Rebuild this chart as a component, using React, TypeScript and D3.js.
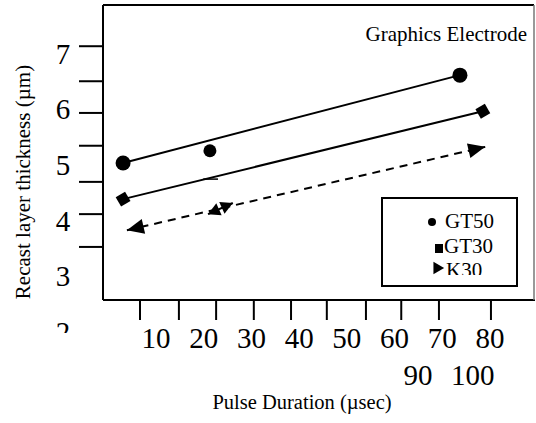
import * as d3 from 'd3';

// values
const xLabels = [10, 20, 30, 40, 50, 60, 70, 80];
const xLabelsRow2 = ['90', '100'];
const xLabelsRow2At = [64.9, 76.4];
const xTickMarks = [6.65, 14.8, 22.6, 30.5, 38.3, 45.8, 54.0, 61.4, 69.3, 80.2];
const yLabels = [7, 6, 5, 4, 3, 2];
const yTickMarks = [7.14, 6.51, 5.94, 5.35, 4.7, 4.12, 3.53];

const gt50X = [3.1, 21.3, 73.7];
const gt50Y = [5.04, 5.26, 6.62];
const gt50LineX = [3.1, 73.7];
const gt50LineY = [5.04, 6.62];
const gt30X = [3.1, 78.5];
const gt30Y = [4.39, 5.97];
const k30X = [3.9, 79];
const k30Y = [3.83, 5.33];
const k30MidX = [20.9, 26.1];
const k30MidY = [4.12, 4.32];
const strayX = [19.9, 23.0];
const strayY = [4.75, 4.75];

const legendNames = ['GT50', 'GT30', 'K30'];

const font = '"Liberation Serif", "Times New Roman", serif';

function App() {
    const width = 536;
    const height = 423;
    const box = { left: 103, top: 5, right: 534, bottom: 300 };

    const x = d3.scaleLinear().domain([10, 80]).range([156, 490]);
    const y = d3.scaleLinear().domain([2, 7]).range([332, 54]);

    const line = d3.line<[number, number]>().x(d => x(d[0])).y(d => y(d[1]));
    const pts = (xs: number[], ys: number[]) => xs.map((v, i) => [v, ys[i]] as [number, number]);

    // arrowhead pointing from (x0,y0) to tip (x1,y1)
    const arrowHead = (x0: number, y0: number, x1: number, y1: number, len: number, half: number) => {
        const ax = x(x0), ay = y(y0), bx = x(x1), by = y(y1);
        const dx = bx - ax, dy = by - ay;
        const l = Math.sqrt(dx * dx + dy * dy);
        const ux = dx / l, uy = dy / l;
        const baseX = bx - ux * len, baseY = by - uy * len;
        return `M${bx},${by}L${baseX - uy * half},${baseY + ux * half}L${baseX + uy * half},${baseY - ux * half}Z`;
    };

    const diamond = d3.symbol().type(d3.symbolDiamond2).size(150)();
    const tri = d3.symbol().type(d3.symbolTriangle2).size(110)();

    return (
        <svg width={width} height={height} style={{ position: 'absolute', left: 0, top: 0, background: '#fff' }} fontFamily={font}>
            <defs>
                <clipPath id="ylab"><rect x={0} y={0} width={100} height={333} /></clipPath>
                <clipPath id="leg"><rect x={380} y={195} width={140} height={80} /></clipPath>
            </defs>

            {/* frame */}
            <line x1={box.left} x2={box.right} y1={box.top} y2={box.top} stroke="#000" strokeWidth={2} />
            <line x1={box.left} x2={box.left} y1={box.top} y2={box.bottom} stroke="#000" strokeWidth={2} />
            <line x1={box.left} x2={box.right + 1} y1={box.bottom} y2={box.bottom} stroke="#000" strokeWidth={2} />
            <line x1={box.right} x2={box.right} y1={box.top} y2={box.bottom} stroke="#777" strokeWidth={1.5} />

            {/* y ticks */}
            {yTickMarks.map((t, i) => (
                <line key={'yt' + i} x1={79} x2={box.left} y1={y(t)} y2={y(t)} stroke="#000" strokeWidth={2} />
            ))}
            <g clipPath="url(#ylab)">
                {yLabels.map(v => (
                    <text key={'yl' + v} x={63} y={y(v)} dy="0.34em" fontSize={29} textAnchor="middle">{v}</text>
                ))}
            </g>

            {/* x ticks */}
            {xTickMarks.map((t, i) => (
                <line key={'xt' + i} x1={x(t)} x2={x(t)} y1={box.bottom} y2={320} stroke="#000" strokeWidth={2} />
            ))}
            {xLabels.map(v => (
                <text key={'xl' + v} x={x(v)} y={348} fontSize={29} textAnchor="middle">{v}</text>
            ))}
            {xLabelsRow2.map((s, i) => (
                <text key={'xl2' + s} x={x(xLabelsRow2At[i])} y={385} fontSize={29} textAnchor="middle">{s}</text>
            ))}

            {/* axis titles */}
            <text x={302} y={409} fontSize={20.5} textAnchor="middle">Pulse Duration (µsec)</text>
            <text transform="translate(30,182) rotate(-90)" fontSize={21} textAnchor="middle">Recast layer thickness (µm)</text>
            <text x={527} y={41} fontSize={21} textAnchor="end">Graphics Electrode</text>

            {/* GT50 */}
            <path d={line(pts(gt50LineX, gt50LineY)) || ''} stroke="#000" strokeWidth={2} fill="none" />
            {gt50X.map((v, i) => (
                <circle key={'c' + i} cx={x(v)} cy={y(gt50Y[i])} r={i === 1 ? 6.5 : 7.5} fill="#000" />
            ))}

            {/* GT30 */}
            <path d={line(pts(gt30X, gt30Y)) || ''} stroke="#000" strokeWidth={2} fill="none" />
            {gt30X.map((v, i) => (
                <path key={'d' + i} d={diamond || ''} transform={`translate(${x(v)},${y(gt30Y[i])}) rotate(15)`} fill="#000" />
            ))}
            <path d={line(pts(strayX, strayY)) || ''} stroke="#000" strokeWidth={1.5} fill="none" />

            {/* K30 dashed */}
            <path d={line(pts(k30X, k30Y)) || ''} stroke="#000" strokeWidth={2} strokeDasharray="8,6" fill="none" />
            <path d={arrowHead(k30X[1], k30Y[1], k30X[0], k30Y[0], 17, 7.5)} fill="#000" />
            <path d={arrowHead(k30X[0], k30Y[0], k30X[1], k30Y[1], 17, 7.5)} fill="#000" />
            <path d={line(pts(k30MidX, k30MidY)) || ''} stroke="#000" strokeWidth={2} fill="none" />
            <path d={arrowHead(k30MidX[1], k30MidY[1], k30MidX[0], k30MidY[0], 12, 6.5)} fill="#000" />
            <path d={arrowHead(k30MidX[0], k30MidY[0], k30MidX[1], k30MidY[1], 12, 6.5)} fill="#000" />

            {/* legend */}
            <rect x={382} y={198} width={135} height={88} fill="#fff" stroke="#000" strokeWidth={2} />
            <g clipPath="url(#leg)" fontSize={21}>
                <circle cx={432} cy={222} r={4} fill="#000" />
                <text x={445} y={228}>{legendNames[0]}</text>
                <rect x={435} y={244} width={8} height={9} fill="#000" />
                <text x={444} y={253}>{legendNames[1]}</text>
                <path d={tri || ''} transform="translate(437,268) rotate(90)" fill="#000" />
                <text x={446} y={277}>{legendNames[2]}</text>
            </g>
        </svg>
    );
}

export default App;
